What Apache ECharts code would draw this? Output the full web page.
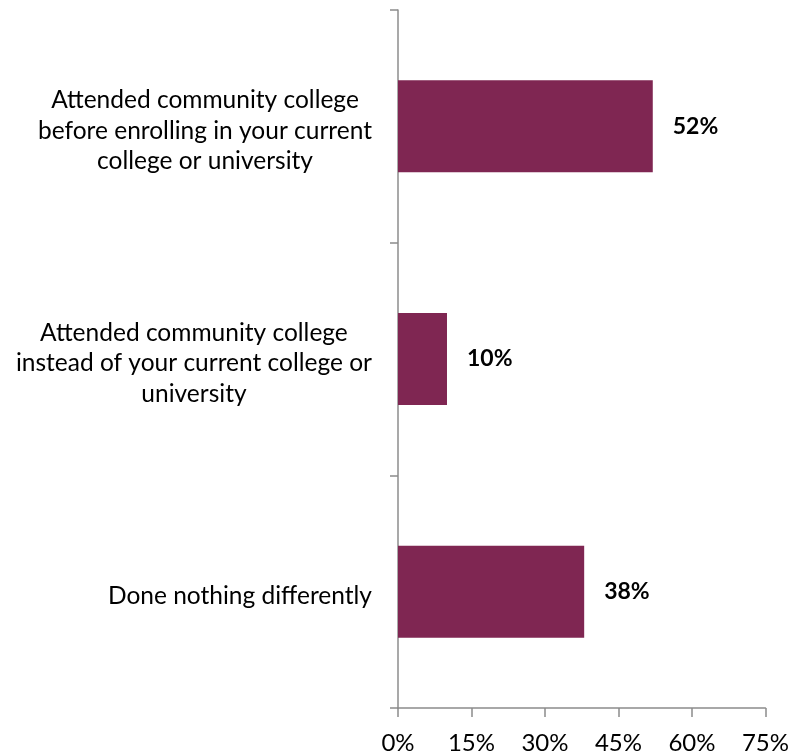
<!DOCTYPE html>
<html>
<head>
<meta charset="utf-8">
<script src="https://cdn.jsdelivr.net/npm/echarts@6/dist/echarts.min.js"></script>
<style>html,body{margin:0;padding:0;background:#fff}#c{width:792px;height:755px}</style>
</head>
<body>
<div id="c"></div>
<script>
var categories = [
  "Attended community college\nbefore enrolling in your current\ncollege or university",
  "Attended community college\ninstead of your current college or\nuniversity",
  "Done nothing differently"
];
var values = [52, 10, 38];
var xTicks = [0, 15, 30, 45, 60, 75];

var FONT = 'Lato';
var chart = echarts.init(document.getElementById('c'), null, {renderer: 'canvas'});
chart.setOption({
  animation: false,
  grid: {left: 398, right: 26, top: 10, bottom: 47, containLabel: false},
  xAxis: {
    type: 'value', min: xTicks[0], max: xTicks[xTicks.length - 1], interval: 15,
    axisLine: {show: true, lineStyle: {color: '#8c8c8c', width: 1.5}},
    axisTick: {show: true, length: 9, lineStyle: {color: '#8c8c8c', width: 1.5}},
    splitLine: {show: false},
    axisLabel: {formatter: '{value}%', color: '#000', fontFamily: FONT, fontSize: 24, margin: 23}
  },
  yAxis: {
    type: 'category', data: categories, inverse: true,
    axisLine: {show: true, lineStyle: {color: '#8c8c8c', width: 1.5}},
    axisTick: {show: true, length: 8, lineStyle: {color: '#8c8c8c', width: 1.5}},
    axisLabel: {
      align: 'right', margin: 26, lineHeight: 30.5, padding: [9, 0, 0, 0],
      formatter: function (v) {
        return v.split('\n').map(function (l) { return '{a|' + l + '}'; }).join('\n');
      },
      rich: {a: {align: 'center', color: '#000', fontFamily: FONT, fontSize: 24.5, lineHeight: 30.5}}
    }
  },
  series: [{
    type: 'bar', data: values, barWidth: 92,
    itemStyle: {color: '#7F2652'},
    label: {show: true, position: 'right', distance: 20, formatter: '{c}%', color: '#000',
            fontFamily: FONT, fontWeight: 'bold', fontSize: 23}
  }]
});
</script>
</body>
</html>
